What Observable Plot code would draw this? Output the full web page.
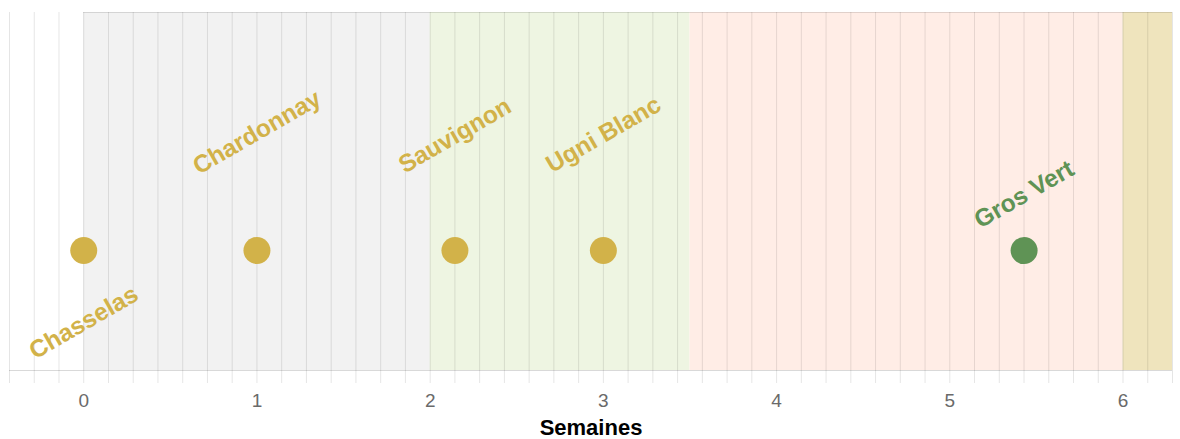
<!DOCTYPE html>
<html>
<head>
<meta charset="utf-8">
<script src="https://cdn.jsdelivr.net/npm/d3@7"></script>
<script src="https://cdn.jsdelivr.net/npm/@observablehq/plot@0.6"></script>
<style>
  html, body { margin: 0; padding: 0; background: #fff; }
  #chart svg { display: block; }
</style>
</head>
<body>
<div id="chart"></div>
<script>
// ---- data ----
const varieties = ["Chasselas", "Chardonnay", "Sauvignon", "Ugni Blanc", "Gros Vert"];
const weeks = [0, 1, 2.143, 3, 5.429];
const groups = ["jaune", "jaune", "jaune", "jaune", "vert"];

const bandStarts = [0, 2, 3.5, 6];
const bandEnds = [2, 3.5, 6, 6.2857];
const bandNames = ["a", "b", "c", "d"];

const weekTicks = [0, 1, 2, 3, 4, 5, 6];
const dayTicks = d3.range(-3, 45); // one tick per day

// ---- layout / style ----
const xDomain = [-3 / 7, 44 / 7];
const pointLevel = 0.335;
const labelLevels = [0.134, 0.665, 0.656, 0.659, 0.492];
const groupColor = {jaune: "#d2b249", vert: "#5f9355"};
const bandColor = {a: "#f2f2f2", b: "#eef5e2", c: "#ffede6", d: "#efe4bd"};

const pts = varieties.map((v, i) => ({name: v, x: weeks[i], g: groups[i], ly: labelLevels[i]}));
const bands = bandNames.map((b, i) => ({b, x1: bandStarts[i], x2: bandEnds[i]}));
const font = "'Liberation Sans', Arial, sans-serif";

const chart = Plot.plot({
  width: 1180,
  height: 439,
  marginTop: 12,
  marginBottom: 69,
  marginLeft: 9,
  marginRight: 8,
  style: {fontFamily: font, background: "#fff"},
  x: {domain: xDomain},
  y: {domain: [0, 1], axis: null},
  marks: [
    Plot.rect(bands, {x1: "x1", x2: "x2", y1: 0, y2: 1, fill: d => bandColor[d.b]}),
    Plot.ruleX(dayTicks.map(d => d / 7), {y1: 0, y2: 1, stroke: "#000", strokeOpacity: 0.1}),
    Plot.ruleY([1], {x1: 0, x2: xDomain[1], stroke: "#000", strokeOpacity: 0.12}),
    Plot.ruleY([0], {stroke: "#000", strokeOpacity: 0.15}),
    Plot.axisX(dayTicks.map(d => d / 7), {tickSize: 13, tickFormat: () => "", stroke: "#000", strokeOpacity: 0.1, label: null}),
    Plot.axisX(weekTicks, {tickSize: 0, tickPadding: 23, fontSize: 19, fill: "#6a6a6a", label: null, tickFormat: d => d}),
    Plot.text(["Semaines"], {frameAnchor: "bottom", dy: 64, fontSize: 22, fontWeight: "bold", fill: "#000"}),
    Plot.dot(pts, {x: "x", y: pointLevel, r: 13.5, fill: d => groupColor[d.g], stroke: "none"}),
    Plot.text(pts, {x: "x", y: "ly", text: "name", rotate: -30, fontSize: 24.5, fontWeight: "bold", fill: d => groupColor[d.g]})
  ]
});
document.getElementById("chart").appendChild(chart);
</script>
</body>
</html>
